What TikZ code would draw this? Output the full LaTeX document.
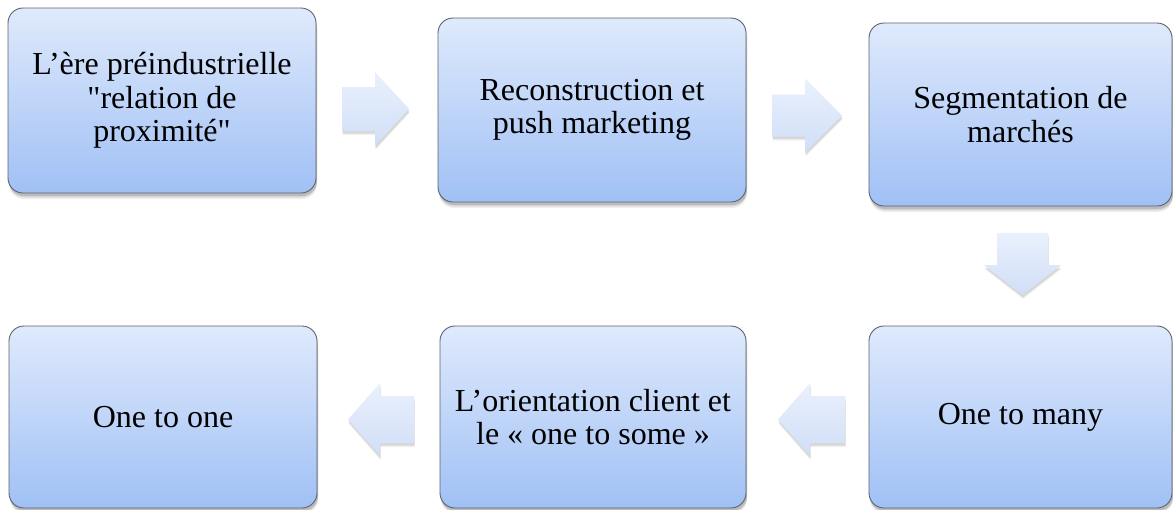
\documentclass[tikz,border=0pt]{standalone}
\usepackage{fontspec}
\setmainfont{Liberation Serif}
\usetikzlibrary{shadows}

\definecolor{boxtop}{HTML}{DFEAFC}
\definecolor{boxbot}{HTML}{A0C0F5}
\definecolor{boxline}{HTML}{5C626E}
\definecolor{arrtop}{HTML}{EAF1FD}
\definecolor{arrbot}{HTML}{D0DEF6}

\tikzset{
  softshadow/.style={
    drop shadow={shadow xshift=1pt, shadow yshift=-6pt, opacity=0.06, fill=black},
    drop shadow={shadow xshift=1pt, shadow yshift=-4.5pt, opacity=0.09, fill=black},
    drop shadow={shadow xshift=1pt, shadow yshift=-3pt, opacity=0.14, fill=black}
  },
  stage/.style={
    softshadow,
    draw=boxline, line width=0.9pt, rounded corners=15pt,
    top color=boxtop, bottom color=boxbot,
    align=center, inner sep=0pt,
    font=\fontsize{32}{33.5}\selectfont
  },
  flowarrow/.style={
    drop shadow={shadow xshift=0.5pt, shadow yshift=-4pt, opacity=0.06, fill=black},
    drop shadow={shadow xshift=0.5pt, shadow yshift=-2.5pt, opacity=0.10, fill=black},
    top color=arrtop, bottom color=arrbot
  }
}

\begin{document}
\begin{tikzpicture}[x=1pt,y=-1pt]
  \useasboundingbox (0,0) rectangle (1173,509);
  \fill[white] (0,0) rectangle (1173,509);

  % top row (left to right)
  \node[stage, minimum width=308pt, minimum height=185pt] (preind) at (162,100.5)
    {L’ère préindustrielle\\\textquotedbl relation de\\proximité\textquotedbl};
  \node[stage, minimum width=308pt, minimum height=184pt] (push) at (592,110)
    {Reconstruction et\\push marketing};
  \node[stage, minimum width=303pt, minimum height=183pt] (segm) at (1020.5,114.5)
    {Segmentation de\\marchés};

  % bottom row (right to left)
  \node[stage, minimum width=303pt, minimum height=182pt] (many) at (1020.5,417)
    {One to many};
  \node[stage, minimum width=306pt, minimum height=182pt] (some) at (593,417)
    {L’orientation client et\\le « one to some »};
  \node[stage, minimum width=308pt, minimum height=182pt] (one) at (163,417)
    {One to one};

  % block arrows between the stages
  \path[flowarrow] (342,87) -- (375,87) -- (375,72) -- (409,109)
    -- (375,146) -- (375,131) -- (342,131) -- cycle;
  \path[flowarrow] (772,94.5) -- (805,94.5) -- (805,78.5) -- (842,115.5)
    -- (805,152.5) -- (805,136.5) -- (772,136.5) -- cycle;
  \path[flowarrow] (997,233) -- (1048,233) -- (1048,265) -- (1061,265)
    -- (1022.5,295) -- (984,265) -- (997,265) -- cycle;
  \path[flowarrow] (845,396) -- (810,396) -- (810,383) -- (778,419.5)
    -- (810,456) -- (810,443) -- (845,443) -- cycle;
  \path[flowarrow] (414,396) -- (380,396) -- (380,383) -- (348,419.5)
    -- (380,456) -- (380,443) -- (414,443) -- cycle;
\end{tikzpicture}
\end{document}
